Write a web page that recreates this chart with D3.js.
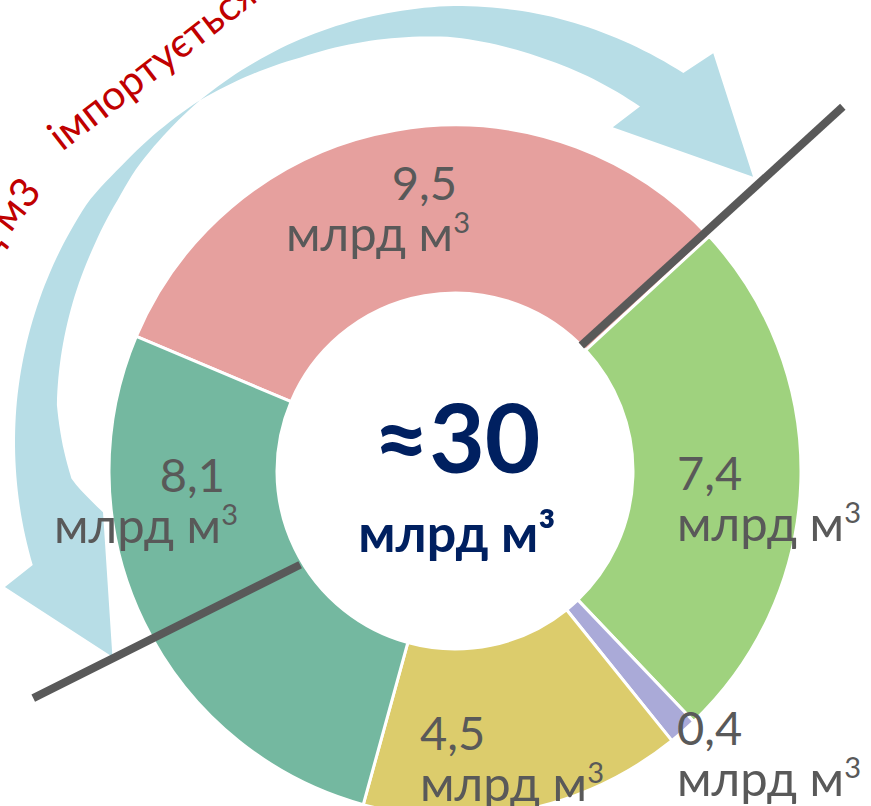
<!DOCTYPE html>
<html>
<head>
<meta charset="utf-8">
<script src="https://cdn.jsdelivr.net/npm/d3@7"></script>
<style>
  body { margin: 0; background: #fff; }
  svg { display: block; }
  text { font-family: Lato, "Open Sans", sans-serif; }
</style>
</head>
<body>
<div id="chart"></div>
<script>
// values, clockwise from the pink slice
var values = [9.5, 7.4, 0.4, 4.5, 8.1];
var valueLabels = ["9,5", "7,4", "0,4", "4,5", "8,1"];
var unitLabel = "млрд м";
var totalLabel = "≈30";
var totalUnit = "млрд м³";
var importText = "імпортується";
var importLead = "млрд м3";

var colors = ["#e6a09e", "#9fd27e", "#aaaad8", "#dccc6c", "#74b8a0"];

var width = 871, height = 806;
var cx = 455, cy = 471, outerR = 346, innerR = 178;
var startDeg = -67.1;
var rad = Math.PI / 180;

// label placement: first line baseline, anchor
var labelPos = [
  {x: 457, y: 200, anchor: "end"},
  {x: 677, y: 490, anchor: "start"},
  {x: 677, y: 745, anchor: "start"},
  {x: 420, y: 750, anchor: "start"},
  {x: 225, y: 492, anchor: "end"}
];

var svg = d3.select("#chart").append("svg")
  .attr("width", width)
  .attr("height", height);

function polar(c, r, deg) {
  return [c[0] + r * Math.sin(deg * rad), c[1] - r * Math.cos(deg * rad)];
}

//---- curved double arrow (behind everything)
var ac = [451, 442];
function edge(dom, rng, from, to) {
  var s = d3.scaleLinear().domain(dom).range(rng);
  var n = Math.ceil(Math.abs(to - from));
  return d3.range(n + 1).map(function(i) {
    var a = from + (to - from) * i / n;
    return polar(ac, s(a), a);
  });
}
var pinch = -36.3;
var upOuter = edge([pinch, -20.6, 0, 13, 32.2], [424, 430, 436, 437, 436], pinch, 32.2);
var upHead = [[34.0, 469], [48.7, 402], [27.2, 354]].map(function(p) { return polar(ac, p[1], p[0]); });
var upInner = edge([pinch, -21.5, 0, 13, 29.4], [424, 413, 405, 395, 385], 29.4, pinch);
var lowInner = edge([pinch, -48.8, -54, -61.9, -84.5, -90.7, -95.7, -101.4],
                    [424, 417, 412, 407, 396, 388, 381, 355], pinch, -101.4);
var lowHead = [[-122.4, 401], [-108, 469]].map(function(p) { return polar(ac, p[1], p[0]); });
var lowOuter = edge([pinch, -50.3, -56.3, -84.5, -106.4], [424, 430, 435, 436, 436], -106.4, pinch);

var arrowPts = upOuter.concat(upHead, upInner, lowInner, lowHead, lowOuter);
svg.append("path")
  .attr("d", d3.line()(arrowPts) + "Z")
  .attr("fill", "#b7dde6");

//---- donut
var pie = d3.pie().sort(null).value(function(d) { return d; })
  .startAngle(startDeg * rad)
  .endAngle((startDeg + 360) * rad);
var arc = d3.arc().innerRadius(innerR).outerRadius(outerR);
var g = svg.append("g").attr("transform", "translate(" + cx + "," + cy + ")");

g.selectAll("path.slice")
  .data(pie(values))
  .enter().append("path")
  .attr("class", "slice")
  .attr("d", arc)
  .attr("fill", function(d, i) { return colors[i]; })
  .attr("stroke", "#fff")
  .attr("stroke-width", 3)
  .attr("stroke-linejoin", "round");

//---- dividing lines
var splits = [
  {a0: 45.2, r0: 178, a1: 46.8, r1: 532},
  {a0: -121.2, r0: 181, a1: -118.3, r1: 479}
];
splits.forEach(function(s) {
  var p0 = polar([cx, cy], s.r0, s.a0), p1 = polar([cx, cy], s.r1, s.a1);
  svg.append("line")
    .attr("x1", p0[0]).attr("y1", p0[1])
    .attr("x2", p1[0]).attr("y2", p1[1])
    .attr("stroke", "#595959")
    .attr("stroke-width", 8);
});

//---- slice labels
values.forEach(function(v, i) {
  var p = labelPos[i];
  svg.append("text")
    .attr("x", p.x).attr("y", p.y)
    .attr("text-anchor", p.anchor)
    .attr("fill", "#595959")
    .attr("font-size", 47)
    .text(valueLabels[i]);
  var t = svg.append("text")
    .attr("x", p.anchor === "end" ? p.x + 13 : p.x).attr("y", p.y + 51)
    .attr("text-anchor", p.anchor)
    .attr("fill", "#595959")
    .attr("font-size", 49);
  t.append("tspan").text(unitLabel);
  t.append("tspan").attr("font-size", 29).attr("dy", -18).text("3");
});

//---- total in the hole
svg.append("text")
  .attr("x", cx + 2).attr("y", 473)
  .attr("text-anchor", "middle")
  .attr("fill", "#002060")
  .attr("font-weight", "bold")
  .attr("font-size", 96)
  .text(totalLabel);
svg.append("text")
  .attr("x", cx + 2).attr("y", 552)
  .attr("text-anchor", "middle")
  .attr("fill", "#002060")
  .attr("font-weight", "bold")
  .attr("font-size", 52)
  .text(totalUnit);

//---- import caption (bends round the arrow, so two pieces)
svg.append("text")
  .attr("transform", "translate(62,152) rotate(-37.6)")
  .attr("fill", "#c00000")
  .attr("font-size", 41)
  .text(importText);
svg.append("text")
  .attr("transform", "translate(43,192) rotate(-52)")
  .attr("text-anchor", "end")
  .attr("fill", "#c00000")
  .attr("font-size", 41)
  .text(importLead);
</script>
</body>
</html>
